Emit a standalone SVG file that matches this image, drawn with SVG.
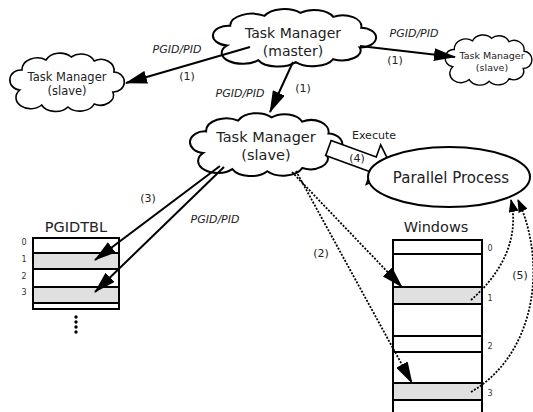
<svg xmlns="http://www.w3.org/2000/svg" xmlns:xlink="http://www.w3.org/1999/xlink" width="533" height="412" viewBox="0 0 533 412">
<style>
.cloud{fill:#fff;stroke:#000;stroke-width:2}
.t{font-family:"DejaVu Sans",sans-serif;fill:#222;text-anchor:middle}
.lbl{font-family:"DejaVu Sans",sans-serif;font-size:11px;fill:#222;text-anchor:middle}
.it{font-style:italic}
.idx{font-family:"DejaVu Sans",sans-serif;font-size:8px;fill:#333;text-anchor:middle}
.conn{stroke:#000;stroke-width:2;fill:none}
.dot{stroke:#000;stroke-width:1.8;fill:none;stroke-dasharray:2 1.5}
.tbl{fill:#fff;stroke:#000;stroke-width:2}
.g{fill:#e0e0e0;stroke:#000;stroke-width:2}
.blk{fill:#fff;stroke:#000;stroke-width:1.6;stroke-linejoin:miter}
</style>
<defs>
<path id="cloudShape" vector-effect="non-scaling-stroke" d="M 8,38 A 10,10 0 0 1 10,18 A 14,12 0 0 1 32,8 A 14,12 0 0 1 55,5 A 13,11 0 0 1 76,9 A 12,11 0 0 1 94,20 A 10,10 0 0 1 93,40 A 12,10 0 0 1 76,52 A 14,11 0 0 1 52,55 A 14,11 0 0 1 28,53 A 12,10 0 0 1 8,38 Z"/>
<marker id="ah" markerWidth="22" markerHeight="13" refX="21" refY="6.5" orient="auto" markerUnits="userSpaceOnUse"><path d="M0,0 L22,6.5 L0,13 Z" fill="#000"/></marker>
<marker id="ahs" markerWidth="13" markerHeight="10" refX="12" refY="5" orient="auto" markerUnits="userSpaceOnUse"><path d="M0,0 L13,5 L0,10 Z" fill="#000"/></marker>
</defs>

<g id="master">
<use href="#cloudShape" class="cloud" transform="translate(214.6,8) scale(1.56,0.985)"/>
<text class="t" x="293" y="38" font-size="14">Task Manager</text>
<text class="t" x="293" y="56" font-size="14">(master)</text>
</g>

<g id="slave-left">
<use href="#cloudShape" class="cloud" style="stroke-width:1.6" transform="translate(11,52) scale(1.095,1)"/>
<text class="t" x="67" y="81" font-size="11.5">Task Manager</text>
<text class="t" x="67" y="95" font-size="11.5">(slave)</text>
</g>

<g id="slave-right">
<use href="#cloudShape" class="cloud" style="stroke-width:1.4" transform="translate(446,34) scale(0.83,0.86)"/>
<text class="t" x="492" y="59" font-size="9.5">Task Manager</text>
<text class="t" x="492" y="71" font-size="9.5">(slave)</text>
</g>

<g id="slave-mid">
<use href="#cloudShape" class="cloud" transform="translate(191.5,112) scale(1.457,1.077)"/>
<text class="t" x="266" y="142" font-size="14.5">Task Manager</text>
<text class="t" x="266" y="160" font-size="14.5">(slave)</text>
</g>

<g id="pgidtbl">
<text class="t" x="76" y="232" font-size="14.5">PGIDTBL</text>
<rect class="tbl" x="33" y="238" width="86" height="71"/>
<rect class="g" x="33" y="253" width="86" height="16"/>
<rect class="g" x="33" y="287" width="86" height="16"/>
<line x1="33" y1="309" x2="119" y2="309" stroke="#000" stroke-width="2"/>
<text class="idx" x="24" y="245">0</text>
<text class="idx" x="24" y="262">1</text>
<text class="idx" x="24" y="279">2</text>
<text class="idx" x="24" y="295">3</text>
<circle cx="76" cy="317" r="1.7" fill="#000"/>
<circle cx="76" cy="322" r="1.7" fill="#000"/>
<circle cx="76" cy="327" r="1.7" fill="#000"/>
<circle cx="76" cy="332" r="1.7" fill="#000"/>
</g>

<g id="windows">
<text class="t" x="436" y="232" font-size="14.5">Windows</text>
<rect class="tbl" x="393" y="240" width="89" height="174"/>
<line x1="393" y1="254" x2="482" y2="254" stroke="#000" stroke-width="2"/>
<rect class="g" x="393" y="287" width="89" height="17"/>
<rect class="tbl" x="393" y="336" width="89" height="16"/>
<rect class="g" x="393" y="383" width="89" height="17"/>
<text class="idx" x="490" y="251">0</text>
<text class="idx" x="490" y="301">1</text>
<text class="idx" x="490" y="349">2</text>
<text class="idx" x="490" y="396">3</text>
</g>

<g id="connectors">
<line class="conn" x1="250" y1="47" x2="126" y2="83" marker-end="url(#ah)"/>
<line class="conn" x1="360" y1="46" x2="455" y2="57" marker-end="url(#ah)"/>
<line class="conn" x1="293" y1="62" x2="270" y2="112" marker-end="url(#ah)"/>
<line class="conn" x1="220" y1="166" x2="95" y2="260" marker-end="url(#ah)"/>
<line class="conn" x1="224" y1="167" x2="95" y2="292" marker-end="url(#ah)"/>
<line class="dot" x1="292" y1="172" x2="402" y2="287" marker-end="url(#ah)"/>
<line class="dot" x1="296" y1="171" x2="412" y2="383" marker-end="url(#ah)"/>
<path class="dot" d="M 471,300 C 500,275 520,240 511,200" marker-end="url(#ahs)"/>
<path class="dot" d="M 471,392 C 535,355 548,265 518,200" marker-end="url(#ahs)"/>
<polygon class="blk" transform="translate(328.4,148.1) rotate(20)" points="0,-8 48,-8 48,-21 70,0 48,21 48,8 0,8"/>
<text class="lbl it" x="177" y="53">PGID/PID</text>
<text class="lbl" x="187" y="80">(1)</text>
<text class="lbl it" x="414" y="37">PGID/PID</text>
<text class="lbl" x="395" y="64">(1)</text>
<text class="lbl it" x="240" y="97">PGID/PID</text>
<text class="lbl" x="303" y="92">(1)</text>
<text class="lbl" x="148" y="202">(3)</text>
<text class="lbl it" x="215" y="223">PGID/PID</text>
<text class="lbl" x="321" y="257">(2)</text>
<text class="lbl" x="520" y="279">(5)</text>
<text class="lbl" x="374" y="139">Execute</text>
<text class="lbl" x="357" y="162">(4)</text>
</g>

<g id="parallel">
<ellipse cx="449" cy="177" rx="81" ry="30" fill="#fff" stroke="#000" stroke-width="2"/>
<text class="t" x="451" y="183" font-size="15">Parallel Process</text>
</g>
</svg>
